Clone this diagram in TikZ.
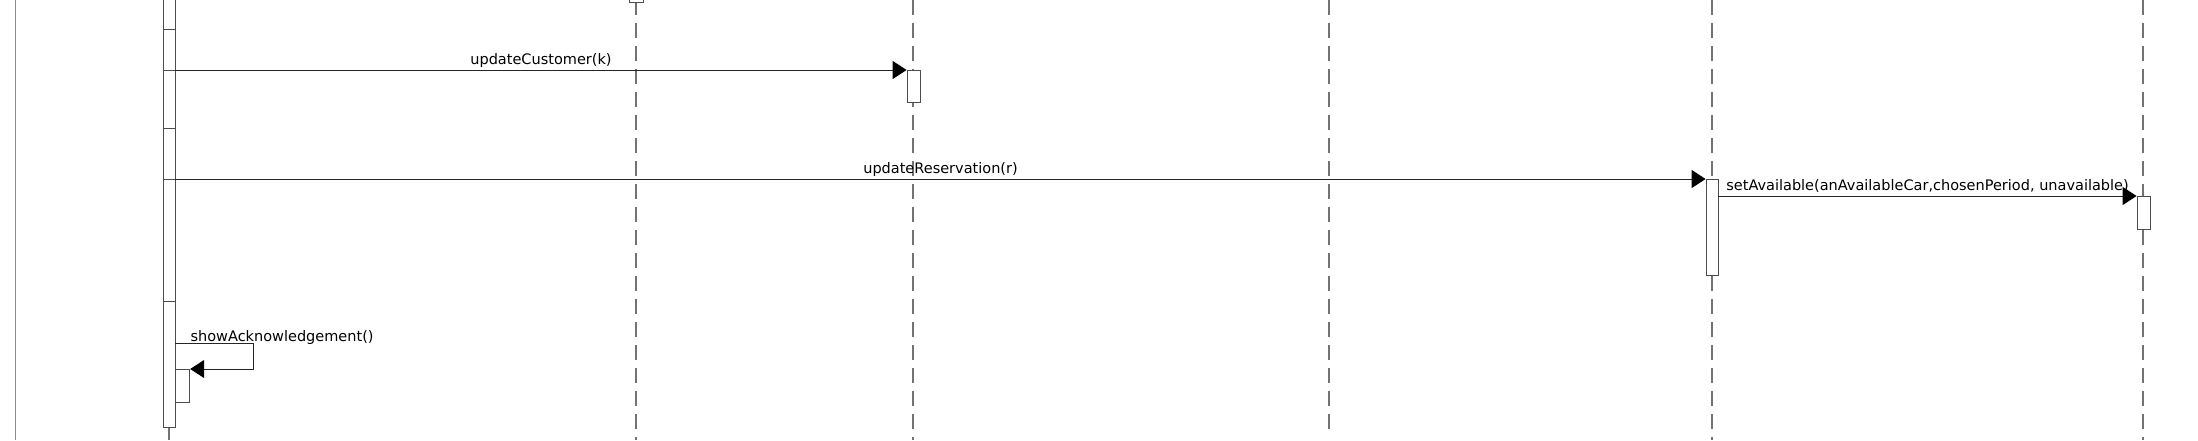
\documentclass[tikz,border=0pt]{standalone}
\usepackage{fontspec}
\setmainfont{DejaVu Sans}
\usetikzlibrary{arrows.meta}
\begin{document}
\begin{tikzpicture}[x=1pt, y=-1pt,
  every node/.style={font=\fontsize{14.5}{17}\selectfont},
  act/.style={draw=black!70, fill=white, line width=0.8pt, inner sep=0pt, minimum width=12pt, minimum height=#1},
  act/.default=10pt,
  life/.style={draw=black!55, line width=1.2pt, dash pattern=on 15pt off 8pt},
  msg/.style={draw=black!85, line width=1pt, -{Triangle[length=14pt, width=18pt, color=black, fill=black]}},
  lbl/.style={anchor=base, yshift=5.5pt, inner sep=0pt}]
	\useasboundingbox (0,0) rectangle (2198,440);

	% lifelines
	\draw[black!45, line width=1.2pt] (15.7,0) -- (15.7,440);
	\foreach \x/\e in {636/440, 913/440, 1329/432, 1712/440, 2143/440}
		\draw[life] (\x,0) -- (\x,\e);
	\draw[life] (169,427) -- (169,440);

	% activations
	\node[act=432pt, anchor=north] (a1) at (169,-5) {};
	\foreach \y in {29,70,128,179,301}
		\draw[black!70, line width=0.8pt] (a1.west |- 0,\y) -- (a1.east |- 0,\y);
	\node[act=10pt, anchor=south, minimum width=14pt] (a2) at (636,3) {};
	\node[act=32pt, anchor=north, minimum width=13pt] (a3) at (913.5,70) {};
	\node[act=96pt, anchor=north] (a5) at (1712,179) {};
	\node[act=33pt, anchor=north, minimum width=13pt] (a6) at (2143.5,196) {};
	\node[act=33pt, anchor=north west, minimum width=14pt] (a1s) at (a1.east |- 0,369) {};

	% messages
	\draw[msg] (a1.east |- a3.north) -- node[lbl] {updateCustomer(k)} (a3.north west);
	\draw[msg] (a1.east |- a5.north) -- node[lbl] {updateReservation(r)} (a5.north west);
	\draw[msg] (a5.east |- a6.north) -- node[lbl] {setAvailable(anAvailableCar,chosenPeriod, unavailable)} (a6.north west);
	\coordinate (s1) at (a1.east |- 0,343);
	\draw[msg] (s1) -- ++(78,0) |- (a1s.north east);
	\node[anchor=base west, inner sep=0pt] (ack) at ([xshift=15pt, yshift=2pt]s1) {showAcknowledgement()};
\end{tikzpicture}
\end{document}
